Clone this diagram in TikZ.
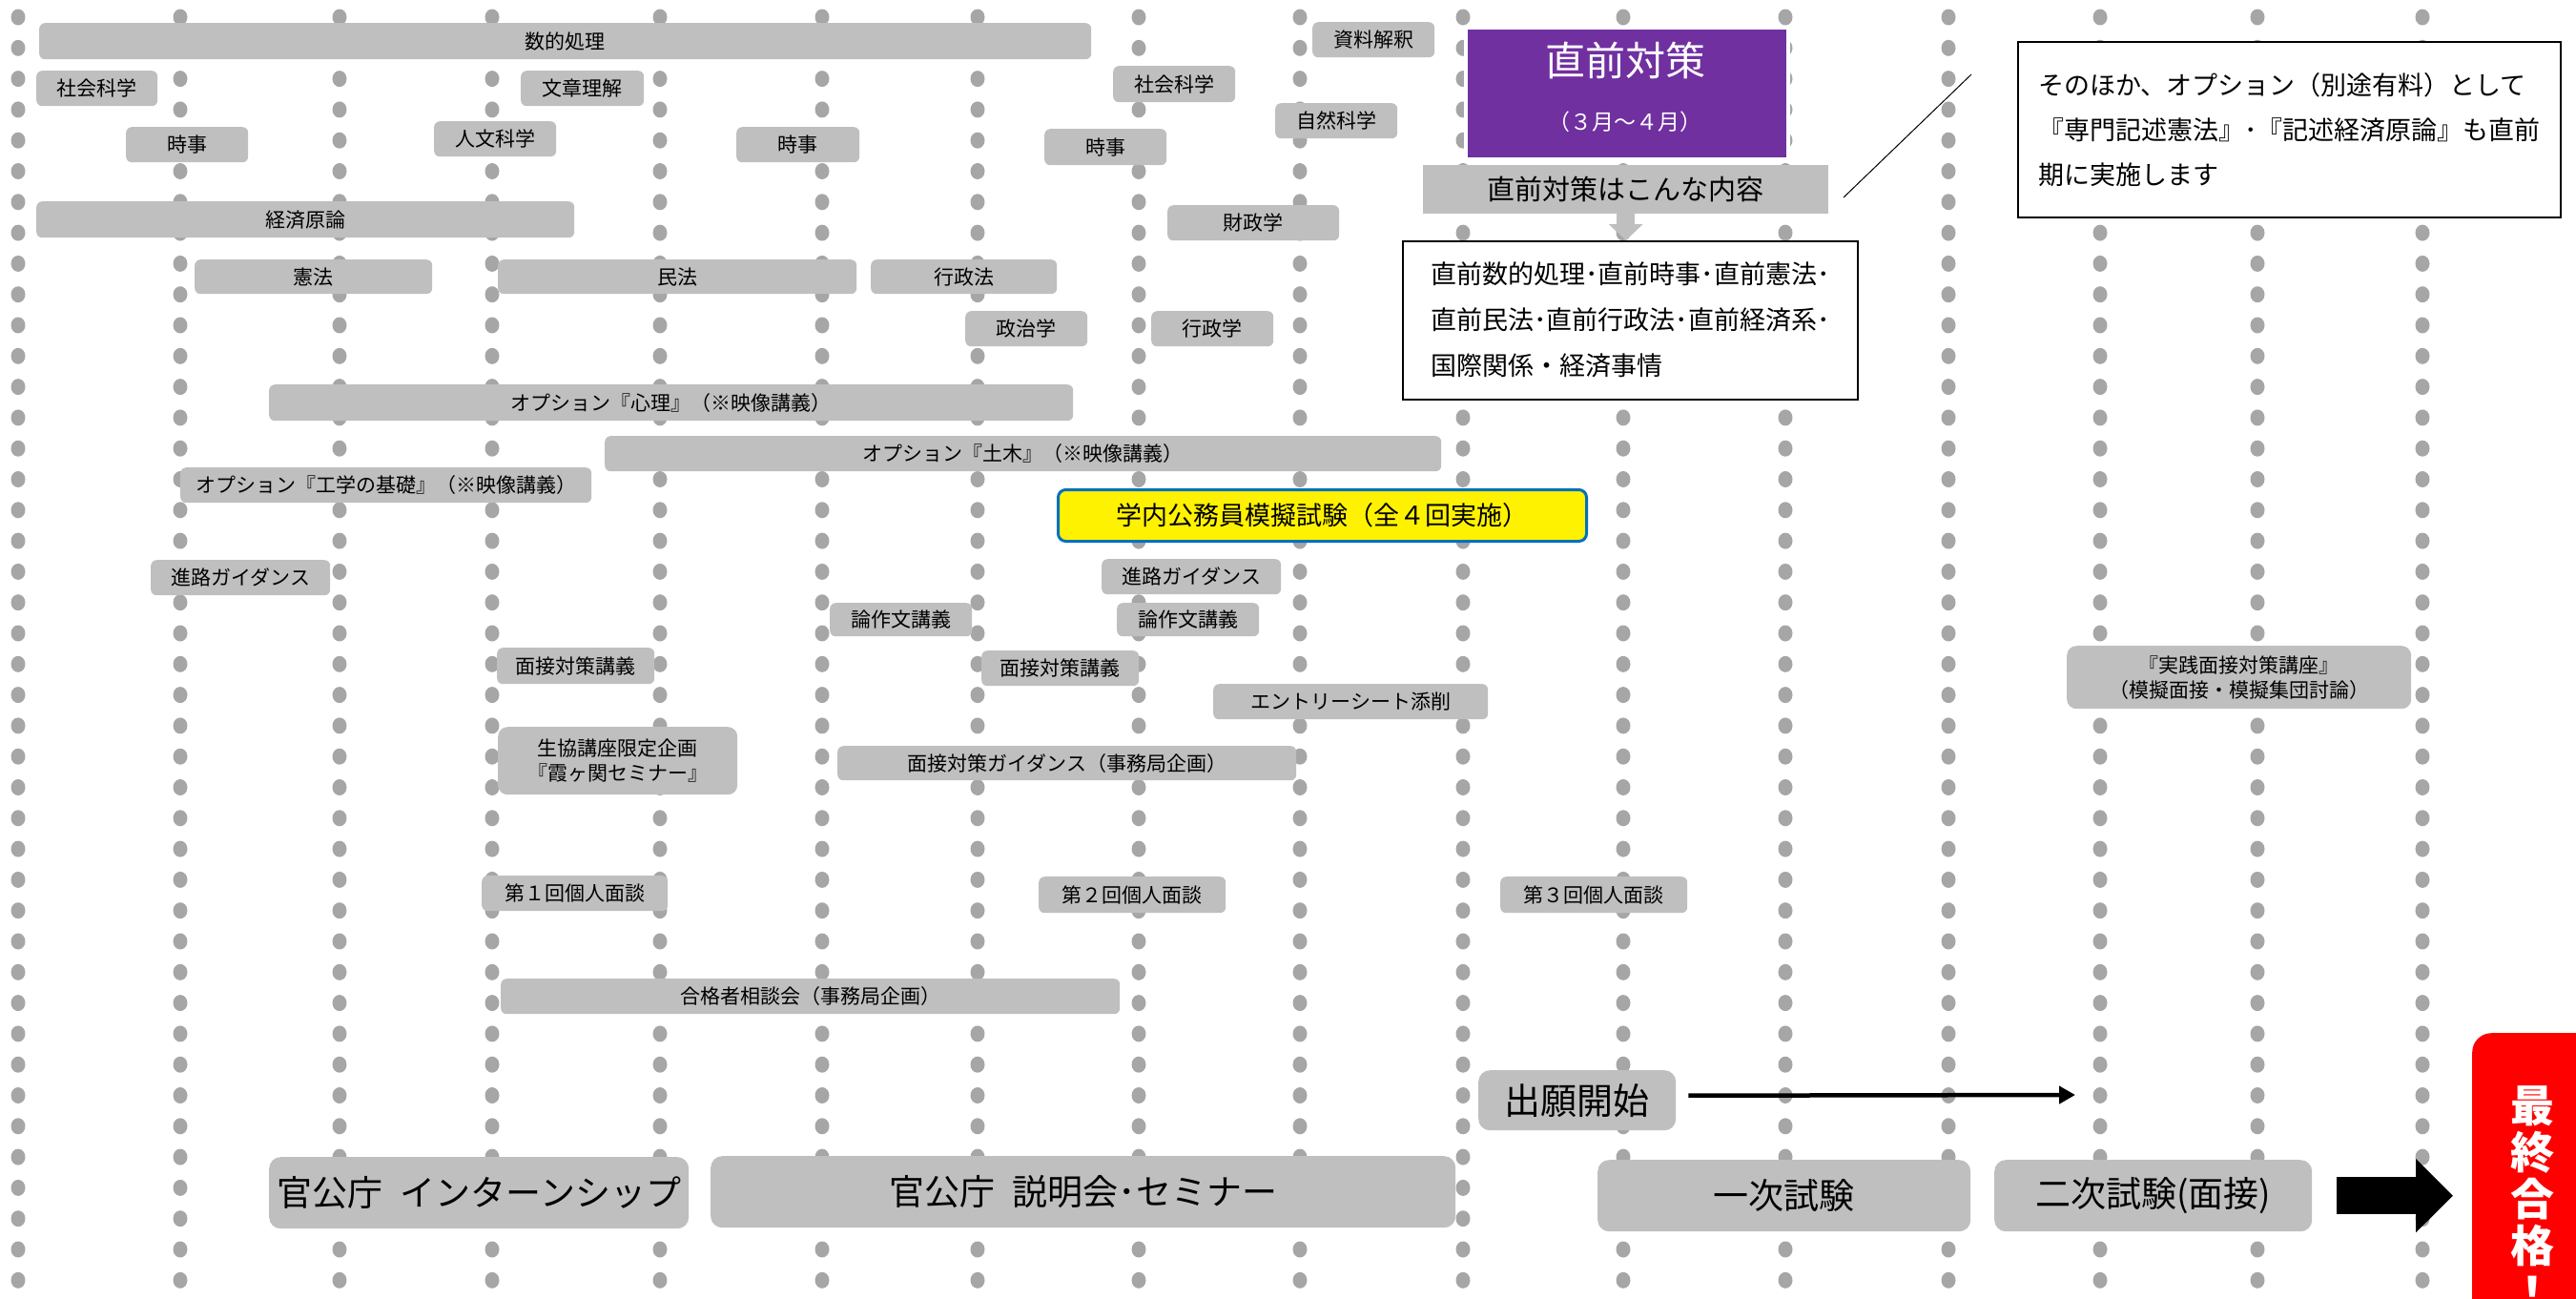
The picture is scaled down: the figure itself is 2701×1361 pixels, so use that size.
\documentclass[tikz,border=0pt]{standalone}
\usepackage{fontspec}
\setmainfont{Noto Sans CJK JP}
\usetikzlibrary{arrows.meta}
\definecolor{dotc}{HTML}{A6A6A6}
\definecolor{barc}{HTML}{BFBFBF}
\definecolor{purplec}{HTML}{7030A0}
\definecolor{bluec}{HTML}{0070C0}
\definecolor{redc}{HTML}{FF0000}

\begin{document}
\begin{tikzpicture}[x=1pt, y=-1pt,
  boxwh/.style 2 args={minimum width=#1pt, minimum height=#2pt},
  gbox/.style={fill=barc, rounded corners=6pt, anchor=north west, inner sep=0pt, align=center, font=\fontsize{21pt}{26pt}\selectfont},
  bigbox/.style={gbox, rounded corners=12pt, font=\fontsize{37pt}{44pt}\selectfont},
  wbox/.style={draw=black, fill=white, line width=1.5pt, anchor=north west, align=left}]
  \useasboundingbox (0,0) rectangle (2701,1361);
  \foreach \cx in {19,189,356,516,692,862,1025,1194,1363,1534,1702,1872,2043,2202,2367,2540}
    \foreach \k in {0,...,41}
      \fill[dotc] (\cx,18+32.3*\k) ellipse (7.5pt and 8.5pt);

  \node[gbox, boxwh={1103}{38}] (suuteki) at (41,24) {数的処理};
  \node[gbox, boxwh={127}{37}] (shakai1) at (38,74) {社会科学};
  \node[gbox, boxwh={129}{37}] (bunsho) at (546,74) {文章理解};
  \node[gbox, boxwh={128}{37}] (jiji1) at (132,133) {時事};
  \node[gbox, boxwh={128}{37}] (jinbun) at (455,127) {人文科学};
  \node[gbox, boxwh={129}{37}] (jiji2) at (772,133) {時事};
  \node[gbox, boxwh={564}{38}] (keizai) at (38,211) {経済原論};
  \node[gbox, boxwh={249}{36}] (kenpo) at (204,272) {憲法};
  \node[gbox, boxwh={376}{36}] (minpo) at (522,272) {民法};
  \node[gbox, boxwh={128}{37}] (shiryo) at (1376,23) {資料解釈};
  \node[gbox, boxwh={128}{38}] (shakai2) at (1167,69) {社会科学};
  \node[gbox, boxwh={128}{37}] (shizen) at (1337,108) {自然科学};
  \node[gbox, boxwh={128}{38}] (jiji3) at (1095,135) {時事};
  \node[gbox, boxwh={180}{37}] (zaisei) at (1224,215) {財政学};
  \node[gbox, boxwh={195}{36}] (gyoseiho) at (913,272) {行政法};
  \node[gbox, boxwh={128}{37}] (seiji) at (1012,326) {政治学};
  \node[gbox, boxwh={128}{37}] (gyoseigaku) at (1207,326) {行政学};
  \node[gbox, boxwh={843}{38}] (shinri) at (282,403) {オプション『心理』（※映像講義）};
  \node[gbox, boxwh={877}{37}] (doboku) at (634,457) {オプション『土木』（※映像講義）};
  \node[gbox, boxwh={431}{37}] (kogaku) at (189,490) {オプション『工学の基礎』（※映像講義）};
  \node[gbox, boxwh={188}{37}] (shinro1) at (158,587) {進路ガイダンス};
  \node[gbox, boxwh={188}{37}] (shinro2) at (1155,586) {進路ガイダンス};
  \node[gbox, boxwh={149}{35}] (ronsaku1) at (870,632) {論作文講義};
  \node[gbox, boxwh={149}{35}] (ronsaku2) at (1171,632) {論作文講義};
  \node[gbox, boxwh={165}{38}] (mensetsu1) at (521,679) {面接対策講義};
  \node[gbox, boxwh={165}{37}] (mensetsu2) at (1029,682) {面接対策講義};
  \node[gbox, boxwh={288}{37}] (entry) at (1272,717) {エントリーシート添削};
  \node[gbox, boxwh={251}{71}, rounded corners=10pt] (seikyo) at (522,762) {生協講座限定企画\\『霞ヶ関セミナー』};
  \node[gbox, boxwh={481}{36}] (mguide) at (878,782) {面接対策ガイダンス（事務局企画）};
  \node[gbox, boxwh={361}{66}, rounded corners=10pt] (jissen) at (2167,677) {『実践面接対策講座』\\（模擬面接・模擬集団討論）};
  \node[gbox, boxwh={195}{37}] (kojin1) at (505,918) {第１回個人面談};
  \node[gbox, boxwh={196}{38}] (kojin2) at (1089,919) {第２回個人面談};
  \node[gbox, boxwh={196}{38}] (kojin3) at (1573,919) {第３回個人面談};
  \node[gbox, boxwh={649}{37}] (goukaku) at (525,1026) {合格者相談会（事務局企画）};

  \node[bigbox, boxwh={440}{75}] (intern) at (282,1213) {官公庁\enspace インターンシップ};
  \node[bigbox, boxwh={781}{75}] (setsumei) at (745,1212) {官公庁\enspace 説明会･セミナー};
  \node[bigbox, boxwh={207}{63}, font=\fontsize{38pt}{44pt}\selectfont] (shutsugan) at (1550,1122) {出願開始};
  \node[bigbox, boxwh={391}{75}] (ichiji) at (1675,1216) {一次試験};
  \node[bigbox, boxwh={333}{75}] (niji) at (2091,1216) {二次試験(面接)};

  \node[anchor=north west, boxwh={338}{138}, fill=purplec, draw=white, line width=4pt] (sokuzen) at (1535,27) {};
  \node[text=white, font=\fontsize{42pt}{48pt}\selectfont] (sokuzenT) at (1704,63) {直前対策};
  \node[text=white, font=\fontsize{23pt}{28pt}\selectfont] (sokuzenM) at (1704,128) {（３月～４月）};
  \node[anchor=north west, boxwh={425}{51}, fill=barc, font=\fontsize{29pt}{34pt}\selectfont] (naiyo) at (1492,173) {直前対策はこんな内容};
  \node[wbox, boxwh={477}{166}, font=\fontsize{27pt}{48pt}\selectfont] (content) at (1470,252) {直前数的処理･直前時事･直前憲法･\\直前民法･直前行政法･直前経済系･\\国際関係・経済事情};
  \draw[barc, line width=19pt, -{Triangle[width=35pt,length=17pt]}] (naiyo.south) -- (naiyo.south |- content.north);
  \node[wbox, boxwh={569}{184}, font=\fontsize{27pt}{47pt}\selectfont] (note) at (2115,43) {そのほか、オプション（別途有料）として\\『専門記述憲法』･『記述経済原論』も直前\\期に実施します};
  \coordinate (callA) at (1933,207);
  \coordinate (callB) at (2067,78);
  \draw[line width=1pt] (callA) -- (callB);

  \node[anchor=north west, boxwh={554}{54}, fill=yellow, draw=bluec, line width=3pt, rounded corners=8pt, font=\fontsize{27pt}{32pt}\selectfont] (mogi) at (1108,512) {学内公務員模擬試験（全４回実施）};

  \coordinate (appEnd) at (2176,1148);
  \draw[line width=4.5pt, -{Triangle[width=18pt,length=17pt]}] ([shift={(13pt,5pt)}]shutsugan.east) -- (appEnd);

  \node[anchor=north west, boxwh={140}{330}, fill=redc, rounded corners=20pt] (final) at (2592,1083) {};
  \node[text=white, inner sep=0pt, anchor=north, align=center, font=\bfseries\fontsize{46pt}{49pt}\selectfont] (finalT) at (2655,1138) {最\\終\\合\\格\\！};
  \draw[line width=39pt, -{Triangle[width=75pt,length=39pt]}] ([xshift=26pt]niji.east) -- ([xshift=-20pt]final.west |- niji.east);
\end{tikzpicture}
\end{document}
